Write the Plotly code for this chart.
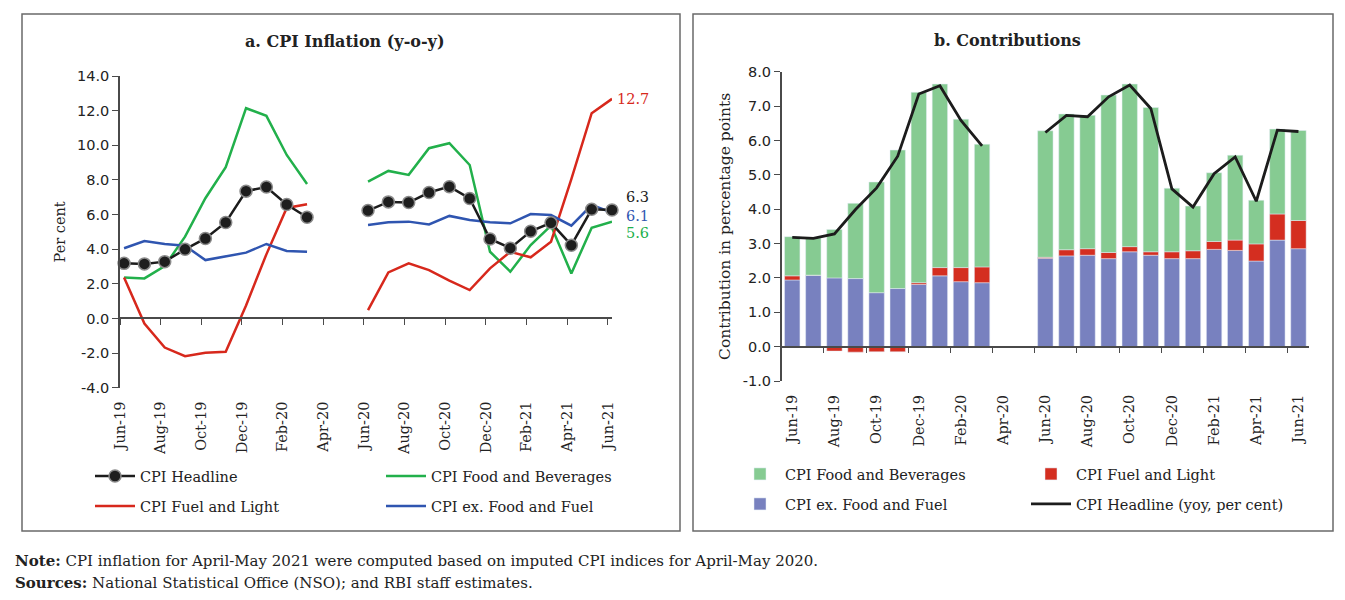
import plotly.graph_objects as go

W, H = 1345, 600
OFF = 8  # the page body adds an 8px margin, so positions are shifted back by it

months = ['Jun-19', 'Jul-19', 'Aug-19', 'Sep-19', 'Oct-19', 'Nov-19', 'Dec-19', 'Jan-20',
          'Feb-20', 'Mar-20', 'Apr-20', 'May-20', 'Jun-20', 'Jul-20', 'Aug-20', 'Sep-20',
          'Oct-20', 'Nov-20', 'Dec-20', 'Jan-21', 'Feb-21', 'Mar-21', 'Apr-21', 'May-21', 'Jun-21']

# panel a: y-o-y inflation, per cent
headline = [3.18, 3.15, 3.28, 3.99, 4.62, 5.54, 7.35, 7.59, 6.58, 5.84, None, None,
            6.23, 6.73, 6.69, 7.27, 7.61, 6.93, 4.59, 4.06, 5.03, 5.52, 4.23, 6.30, 6.26]
food_bev = [2.37, 2.31, 3.03, 4.72, 6.94, 8.73, 12.14, 11.70, 9.44, 7.76, None, None,
            7.90, 8.52, 8.29, 9.83, 10.12, 8.86, 3.85, 2.70, 4.24, 5.36, 2.60, 5.24, 5.58]
fuel = [2.37, -0.29, -1.68, -2.18, -1.98, -1.93, 0.75, 3.70, 6.38, 6.59, None, None,
        0.48, 2.66, 3.18, 2.79, 2.18, 1.64, 2.89, 3.85, 3.53, 4.43, 8.05, 11.85, 12.68]
core = [4.05, 4.47, 4.30, 4.20, 3.37, 3.60, 3.80, 4.30, 3.90, 3.85, None, None,
        5.39, 5.55, 5.59, 5.43, 5.92, 5.68, 5.55, 5.49, 6.03, 5.97, 5.36, 6.55, 6.11]

# panel b: contributions, percentage points
contrib_food = [1.14, 1.08, 1.41, 2.19, 3.22, 4.03, 5.54, 5.34, 4.32, 3.57, None, None,
                3.68, 3.95, 3.88, 4.58, 4.73, 4.20, 1.85, 1.30, 2.00, 2.47, 1.27, 2.47, 2.62]
contrib_fuel = [0.12, 0.01, -0.13, -0.16, -0.15, -0.15, 0.05, 0.24, 0.41, 0.46, None, None,
                0.03, 0.18, 0.19, 0.18, 0.15, 0.10, 0.20, 0.23, 0.23, 0.30, 0.50, 0.76, 0.82]
contrib_core = [1.94, 2.07, 2.00, 1.98, 1.57, 1.69, 1.81, 2.06, 1.89, 1.86, None, None,
                2.57, 2.64, 2.66, 2.56, 2.76, 2.66, 2.56, 2.56, 2.83, 2.80, 2.49, 3.10, 2.85]

idx = list(range(len(months)))
label_idx = idx[::2]
label_text = months[::2]
yticks_a = list(range(-4, 15, 2))
yticks_b = list(range(-1, 9))

SERIF = 'DejaVu Serif'
SANS = 'DejaVu Sans'
AX = '#4a4a4a'


def px(x):
    return (x - OFF) / W


def py(y):
    return 1 - (y - OFF) / H


fig = go.Figure()

# ---- panel a ----
fig.add_trace(go.Scatter(x=idx, y=food_bev, mode='lines', name='CPI Food and Beverages',
                         line=dict(color='#22b04b', width=2.5), legend='legend', legendrank=2,
                         cliponaxis=False))
fig.add_trace(go.Scatter(x=idx, y=fuel, mode='lines', name='CPI Fuel and Light',
                         line=dict(color='#d7281c', width=2.5), legend='legend2', legendrank=1,
                         cliponaxis=False))
fig.add_trace(go.Scatter(x=idx, y=core, mode='lines', name='CPI ex. Food and Fuel',
                         line=dict(color='#2f55b0', width=2.5), legend='legend2', legendrank=2,
                         cliponaxis=False))
fig.add_trace(go.Scatter(x=idx, y=headline, mode='lines+markers', name='CPI Headline',
                         line=dict(color='#1c1c1c', width=2.5),
                         marker=dict(size=12, color='#1e1e1e', line=dict(color='#8a8a8a', width=1.5)),
                         legend='legend', legendrank=1, cliponaxis=False))
# dummy trace so the zero-line axis gets drawn
fig.add_trace(go.Scatter(x=[None], y=[None], xaxis='x3', yaxis='y', showlegend=False, hoverinfo='skip'))

# ---- panel b ----
fig.add_trace(go.Bar(x=idx, y=contrib_core, name='CPI ex. Food and Fuel', marker_color='#7881bf',
                     xaxis='x2', yaxis='y2', legend='legend4', legendrank=1))
fig.add_trace(go.Bar(x=idx, y=contrib_fuel, name='CPI Fuel and Light', marker_color='#d42e20',
                     xaxis='x2', yaxis='y2', legend='legend3', legendrank=2))
fig.add_trace(go.Bar(x=idx, y=contrib_food, name='CPI Food and Beverages', marker_color='#86cb92',
                     xaxis='x2', yaxis='y2', legend='legend3', legendrank=1))
fig.add_trace(go.Scatter(x=idx, y=headline, mode='lines', name='CPI Headline (yoy, per cent)',
                         line=dict(color='#1c1c1c', width=2.8), xaxis='x2', yaxis='y2',
                         legend='legend4', legendrank=2, cliponaxis=False))
fig.add_trace(go.Scatter(x=[None], y=[None], xaxis='x4', yaxis='y2', showlegend=False, hoverinfo='skip'))

# axes geometry (reference pixels -> paper)
ax_l, ax_r = px(120), px(612)
ay_b, ay_t = py(387.7), py(76)
bx_l, bx_r = px(781.7), px(1309)
by_b, by_t = py(381), py(71.7)

xr_a = [-0.2, 24]
xr_b = [-0.5, 24.5]
yr_a = [-4, 14]
yr_b = [-1, 8]

tick_font = dict(family=SERIF, size=14.5, color='#222')
ytick_font = dict(family=SANS, size=14.5, color='#222')

fig.update_layout(
    width=W, height=H,
    margin=dict(l=0, r=0, t=0, b=0, pad=0, autoexpand=False),
    paper_bgcolor='white', plot_bgcolor='white',
    barmode='relative', bargap=0.27,
    font=dict(family=SERIF, size=14.5, color='#222'),
    xaxis=dict(domain=[ax_l, ax_r], range=xr_a, tickvals=[i - 0.2 for i in label_idx],
               ticktext=label_text, tickangle=-90, ticks='', showline=False, showgrid=False,
               zeroline=False, tickfont=tick_font, ticklabelstandoff=10, anchor='y', automargin=False),
    xaxis3=dict(overlaying='x', range=xr_a, anchor='free',
                position=ay_b + (0 - yr_a[0]) / (yr_a[1] - yr_a[0]) * (ay_t - ay_b),
                tickvals=[i - 0.2 for i in label_idx], showticklabels=False, ticks='outside',
                ticklen=6, tickcolor=AX, showline=True, linecolor=AX, linewidth=1.5,
                showgrid=False, zeroline=False, automargin=False),
    yaxis=dict(domain=[ay_b, ay_t], range=yr_a, tickvals=yticks_a,
               ticktext=[f'{v:.1f}' for v in yticks_a],
               ticks='outside', ticklen=6, tickcolor=AX, showline=True, linecolor=AX, linewidth=1.5,
               showgrid=False, zeroline=False, tickfont=ytick_font, anchor='x', automargin=False,
               title=dict(text='Per cent', font=dict(family=SERIF, size=14.5), standoff=8)),
    xaxis2=dict(domain=[bx_l, bx_r], range=xr_b, tickvals=label_idx, ticktext=label_text,
                tickangle=-90, ticks='', showline=False, showgrid=False, zeroline=False,
                tickfont=tick_font, ticklabelstandoff=10, anchor='y2', automargin=False),
    xaxis4=dict(overlaying='x2', range=xr_b, anchor='free',
                position=by_b + (0 - yr_b[0]) / (yr_b[1] - yr_b[0]) * (by_t - by_b),
                tickvals=[i - 0.5 for i in label_idx], showticklabels=False, ticks='outside',
                ticklen=6, tickcolor=AX, showline=True, linecolor=AX, linewidth=1.5,
                showgrid=False, zeroline=False, automargin=False),
    yaxis2=dict(domain=[by_b, by_t], range=yr_b, tickvals=yticks_b,
                ticktext=[f'{v:.1f}' for v in yticks_b],
                ticks='outside', ticklen=6, tickcolor=AX, showline=True, linecolor=AX, linewidth=1.5,
                showgrid=False, zeroline=False, tickfont=ytick_font, anchor='x2', automargin=False,
                title=dict(text='Contribution in percentage points', font=dict(family=SERIF, size=15.5),
                           standoff=8)),
    showlegend=True,
)

leg_common = dict(orientation='h', xanchor='left', yanchor='middle', bgcolor='rgba(0,0,0,0)',
                  font=dict(family=SERIF, size=14.5, color='#222'), entrywidth=236,
                  itemwidth=40, tracegroupgap=0)
fig.update_layout(
    legend=dict(leg_common, x=px(90), y=py(476)),
    legend2=dict(leg_common, x=px(90), y=py(506)),
    legend3=dict(leg_common, x=px(735), y=py(474)),
    legend4=dict(leg_common, x=px(735), y=py(504)),
)

# panel frames
line_col = '#6a6a6a'
fig.add_shape(type='rect', xref='paper', yref='paper', x0=px(22), x1=px(680), y0=py(531), y1=py(14),
              line=dict(color=line_col, width=1.5))
fig.add_shape(type='rect', xref='paper', yref='paper', x0=px(693), x1=px(1333), y0=py(531), y1=py(14),
              line=dict(color=line_col, width=1.5))

# titles
fig.add_annotation(text='<b>a. CPI Inflation (y-o-y)</b>', x=px(344), y=py(41), xref='paper', yref='paper',
                   xanchor='center', yanchor='middle', showarrow=False,
                   font=dict(family=SERIF, size=16, color='#222'))
fig.add_annotation(text='<b>b. Contributions</b>', x=px(1007), y=py(40), xref='paper', yref='paper',
                   xanchor='center', yanchor='middle', showarrow=False,
                   font=dict(family=SERIF, size=16, color='#222'))

# end-point labels
last = len(months) - 1
for val, col, ys in [(fuel[last], '#d7281c', 0), (headline[last], '#1c1c1c', 13),
                     (core[last], '#2f55b0', -3), (food_bev[last], '#22b04b', -11)]:
    fig.add_annotation(text=f'{val:.1f}', x=last, y=val, xref='x', yref='y', showarrow=False,
                       xanchor='left', yanchor='middle', xshift=3 if ys == 0 else 12, yshift=ys,
                       font=dict(family=SERIF, size=14.5, color=col))

# notes
fig.add_annotation(text='<b>Note:</b> CPI inflation for April-May 2021 were computed based on imputed CPI '
                        'indices for April-May 2020.',
                   x=px(13), y=py(561), xref='paper', yref='paper', xanchor='left', yanchor='middle',
                   showarrow=False, font=dict(family=SERIF, size=15, color='#222'))
fig.add_annotation(text='<b>Sources:</b> National Statistical Office (NSO); and RBI staff estimates.',
                   x=px(13), y=py(583), xref='paper', yref='paper', xanchor='left', yanchor='middle',
                   showarrow=False, font=dict(family=SERIF, size=15, color='#222'))

fig.write_html('out.html')
